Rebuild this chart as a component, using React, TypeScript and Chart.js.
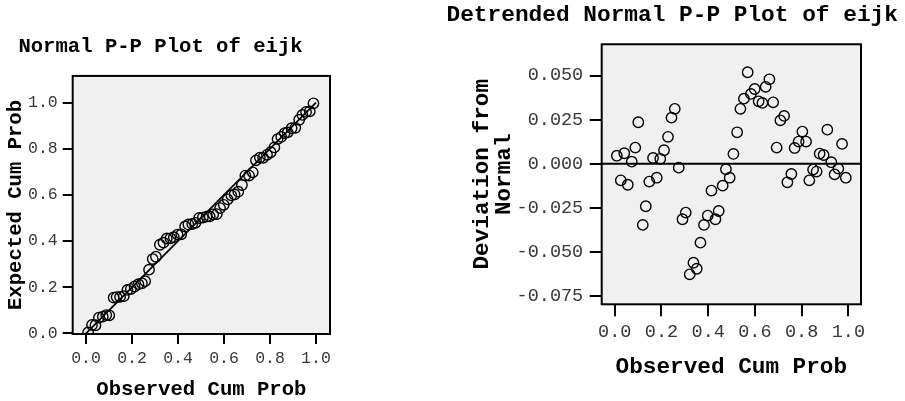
import { useEffect, useRef } from 'react';
import { Chart, registerables } from 'chart.js';

Chart.register(...registerables);

// Observed cumulative probability of each residual (sorted)
const OBSERVED_CUM_PROB = [
  0.009, 0.026, 0.041, 0.056, 0.073, 0.088, 0.101, 0.12, 0.133, 0.148,
  0.164, 0.18, 0.195, 0.211, 0.228, 0.243, 0.257, 0.274, 0.29, 0.304,
  0.321, 0.337, 0.351, 0.367, 0.382, 0.398, 0.414, 0.431, 0.445, 0.462,
  0.476, 0.492, 0.508, 0.524, 0.538, 0.553, 0.569, 0.583, 0.599, 0.616,
  0.632, 0.646, 0.662, 0.678, 0.693, 0.709, 0.725, 0.739, 0.756, 0.77,
  0.787, 0.803, 0.819, 0.833, 0.849, 0.864, 0.877, 0.894, 0.91, 0.927,
  0.941, 0.957, 0.973, 0.989,
];

// Expected cumulative probability under the normal distribution
const EXPECTED_CUM_PROB = [
  0.004, 0.036, 0.035, 0.068, 0.072, 0.079, 0.078, 0.155, 0.157, 0.158,
  0.161, 0.188, 0.192, 0.203, 0.213, 0.217, 0.226, 0.276, 0.322, 0.332,
  0.384, 0.393, 0.411, 0.412, 0.417, 0.428, 0.429, 0.463, 0.472, 0.474,
  0.479, 0.5, 0.502, 0.506, 0.507, 0.516, 0.517, 0.543, 0.557, 0.581,
  0.598, 0.602, 0.614, 0.643, 0.684, 0.684, 0.698, 0.75, 0.762, 0.761,
  0.774, 0.785, 0.806, 0.842, 0.852, 0.868, 0.871, 0.889, 0.891, 0.926,
  0.947, 0.96, 0.962, 0.997,
];

// Deviation from normal (observed minus expected)
const DEVIATION_FROM_NORMAL = [
  0.0045, -0.0095, 0.0059, -0.012, 0.0011, 0.0091, 0.0235, -0.0348, -0.0242, -0.0102,
  0.0032, -0.008, 0.0027, 0.0076, 0.0152, 0.0261, 0.0311, -0.0023, -0.0316, -0.0278,
  -0.0629, -0.0563, -0.0597, -0.0449, -0.0348, -0.0295, -0.0153, -0.0316, -0.0269, -0.0125,
  -0.0032, -0.008, 0.0055, 0.0178, 0.0311, 0.0369, 0.0519, 0.0396, 0.0424, 0.0354,
  0.0345, 0.0436, 0.0479, 0.0348, 0.0091, 0.0246, 0.0271, -0.0106, -0.0059, 0.0089,
  0.0125, 0.0182, 0.0125, -0.0095, -0.0034, -0.0045, 0.0057, 0.0049, 0.0193, 0.0008,
  -0.0061, -0.0028, 0.0112, -0.008,
];

// Diagonal reference line of the P-P plot
const REFERENCE_X = [0, 1];
const REFERENCE_Y = [0, 1];

const PP_X_TICKS = [0, 0.2, 0.4, 0.6, 0.8, 1.0];
const PP_Y_TICKS = [0, 0.2, 0.4, 0.6, 0.8, 1.0];
const DETRENDED_X_TICKS = [0, 0.2, 0.4, 0.6, 0.8, 1.0];
const DETRENDED_Y_TICKS = [-0.075, -0.05, -0.025, 0, 0.025, 0.05];

const MONO = "'Liberation Mono', 'Courier New', monospace";

// Grey plot background, black frame and an optional zero line
const plotFrame = {
  id: 'plotFrame',
  beforeDraw(chart: any) {
    const { ctx, chartArea: a } = chart;
    ctx.save();
    ctx.fillStyle = '#f0f0f0';
    ctx.fillRect(a.left, a.top, a.right - a.left, a.bottom - a.top);
    ctx.restore();
  },
  beforeDatasetsDraw(chart: any, _args: any, opts: any) {
    const { ctx, chartArea: a } = chart;
    ctx.save();
    if (opts && opts.zeroLine) {
      const y = chart.scales.y.getPixelForValue(0);
      ctx.strokeStyle = '#000';
      ctx.lineWidth = 2;
      ctx.beginPath();
      ctx.moveTo(a.left, y);
      ctx.lineTo(a.right, y);
      ctx.stroke();
    }
    ctx.strokeStyle = '#000';
    ctx.lineWidth = 2;
    ctx.strokeRect(a.left, a.top, a.right - a.left, a.bottom - a.top);
    ctx.restore();
  },
};

type AxisSpec = {
  min: number;
  max: number;
  ticks: number[];
  digits: number;
  tickFont: number;
  tickLength: number;
  tickPad: number;
  title: string | string[];
  titleFont: number;
  titleLineHeight: number;
  titlePad: { top: number; bottom: number };
  size: number;
  horizontal: boolean;
};

function makeAxis(s: AxisSpec) {
  return {
    type: 'linear',
    position: s.horizontal ? 'bottom' : 'left',
    min: s.min,
    max: s.max,
    afterBuildTicks: (scale: any) => {
      scale.ticks = s.ticks.map((v) => ({ value: v }));
    },
    afterFit: (scale: any) => {
      if (s.horizontal) scale.height = s.size;
      else scale.width = s.size;
    },
    ticks: {
      autoSkip: false,
      maxRotation: 0,
      minRotation: 0,
      padding: s.tickPad,
      color: '#383838',
      font: { family: MONO, size: s.tickFont, weight: 'normal' },
      callback: (v: any) => Number(v).toFixed(s.digits),
    },
    grid: {
      display: true,
      drawOnChartArea: false,
      drawTicks: true,
      tickLength: s.tickLength,
      tickWidth: 2,
      tickColor: '#000',
      color: '#000',
      lineWidth: 2,
    },
    border: { display: false },
    title: {
      display: true,
      text: s.title,
      color: '#000',
      padding: s.titlePad,
      font: { family: MONO, size: s.titleFont, weight: 'bold', lineHeight: s.titleLineHeight },
    },
  };
}

// Empty right-hand gutter so the chart title can run past the plot frame
function gutterAxis(width: number) {
  return {
    type: 'linear',
    position: 'right',
    display: true,
    ticks: { display: false },
    grid: { display: false, drawTicks: false },
    border: { display: false },
    title: { display: false },
    afterFit: (scale: any) => {
      scale.width = width;
    },
  };
}

function PPPlot() {
  const ref = useRef<HTMLCanvasElement>(null);
  useEffect(() => {
    if (!ref.current) return;
    const points = OBSERVED_CUM_PROB.map((x, i) => ({ x, y: EXPECTED_CUM_PROB[i] }));
    const line = REFERENCE_X.map((x, i) => ({ x, y: REFERENCE_Y[i] }));
    const chart = new Chart(ref.current, {
      type: 'scatter',
      data: {
        datasets: [
          {
            data: points,
            pointStyle: 'circle',
            pointRadius: 5.2,
            pointBorderWidth: 1.4,
            pointBorderColor: '#000',
            pointBackgroundColor: 'rgba(0,0,0,0)',
            borderColor: '#000',
            backgroundColor: 'rgba(0,0,0,0)',
          },
          {
            data: line,
            showLine: true,
            borderColor: '#000',
            borderWidth: 1.7,
            pointRadius: 0,
            fill: false,
          },
        ],
      },
      options: {
        animation: false,
        responsive: false,
        events: [],
        layout: { padding: { left: 0, right: 10, top: 0, bottom: 0 } },
        plugins: {
          legend: { display: false },
          tooltip: { enabled: false },
          title: {
            display: true,
            text: 'Normal P-P Plot of eijk',
            color: '#000',
            padding: { top: 34.8, bottom: 16.4 },
            font: { family: MONO, size: 20.6, weight: 'bold', lineHeight: 1.2 },
          },
          plotFrame: { zeroLine: false },
        } as any,
        scales: {
          x: makeAxis({
            min: -0.058, max: 1.061, ticks: PP_X_TICKS, digits: 1,
            tickFont: 16.5, tickLength: 10, tickPad: 5,
            title: 'Observed Cum Prob', titleFont: 20.6, titleLineHeight: 1.2,
            titlePad: { top: 0, bottom: -0.9 }, size: 67, horizontal: true,
          }),
          y: makeAxis({
            min: -0.003, max: 1.116, ticks: PP_Y_TICKS, digits: 1,
            tickFont: 16.5, tickLength: 10, tickPad: 5,
            title: 'Expected Cum Prob', titleFont: 20.6, titleLineHeight: 1.2,
            titlePad: { top: 12.8, bottom: 0 }, size: 81.7, horizontal: false,
          }),
        } as any,
      },
      plugins: [plotFrame],
    });
    return () => chart.destroy();
  }, []);
  return (
    <canvas
      ref={ref}
      width={349}
      height={401}
      style={{ position: 'absolute', left: -9, top: 0, width: 349, height: 401 }}
    />
  );
}

function DetrendedPlot() {
  const ref = useRef<HTMLCanvasElement>(null);
  useEffect(() => {
    if (!ref.current) return;
    const points = OBSERVED_CUM_PROB.map((x, i) => ({ x, y: DEVIATION_FROM_NORMAL[i] }));
    const chart = new Chart(ref.current, {
      type: 'scatter',
      data: {
        datasets: [
          {
            data: points,
            pointStyle: 'circle',
            pointRadius: 5.2,
            pointBorderWidth: 1.4,
            pointBorderColor: '#000',
            pointBackgroundColor: 'rgba(0,0,0,0)',
            borderColor: '#000',
            backgroundColor: 'rgba(0,0,0,0)',
          },
        ],
      },
      options: {
        animation: false,
        responsive: false,
        events: [],
        layout: { padding: { left: 6.4, right: 7, top: 0, bottom: 20.4 } },
        plugins: {
          legend: { display: false },
          tooltip: { enabled: false },
          title: {
            display: true,
            text: 'Detrended Normal P-P Plot of eijk',
            color: '#000',
            padding: { top: 1.9, bottom: 15.0 },
            font: { family: MONO, size: 22.8, weight: 'bold', lineHeight: 1.2 },
          },
          plotFrame: { zeroLine: true },
        } as any,
        scales: {
          x: makeAxis({
            min: -0.0557, max: 1.054, ticks: DETRENDED_X_TICKS, digits: 1,
            tickFont: 18.5, tickLength: 12, tickPad: 5,
            title: 'Observed Cum Prob', titleFont: 22.7, titleLineHeight: 1.2,
            titlePad: { top: 0, bottom: 0 }, size: 76.3, horizontal: true,
          }),
          y: makeAxis({
            min: -0.0799, max: 0.0678, ticks: DETRENDED_Y_TICKS, digits: 3,
            tickFont: 18.5, tickLength: 12, tickPad: 6.5,
            title: ['Deviation from', 'Normal'], titleFont: 22.7, titleLineHeight: 0.96,
            titlePad: { top: 25, bottom: 0 }, size: 155.3, horizontal: false,
          }),
          gutter: gutterAxis(37),
        } as any,
      },
      plugins: [plotFrame],
    });
    return () => chart.destroy();
  }, []);
  return (
    <canvas
      ref={ref}
      width={465}
      height={401}
      style={{ position: 'absolute', left: 440, top: 0, width: 465, height: 401 }}
    />
  );
}

export default function App() {
  return (
    <div
      style={{
        position: 'absolute',
        left: 0,
        top: 0,
        width: 905,
        height: 401,
        overflow: 'hidden',
        background: '#fff',
      }}
    >
      <PPPlot />
      <DetrendedPlot />
    </div>
  );
}
